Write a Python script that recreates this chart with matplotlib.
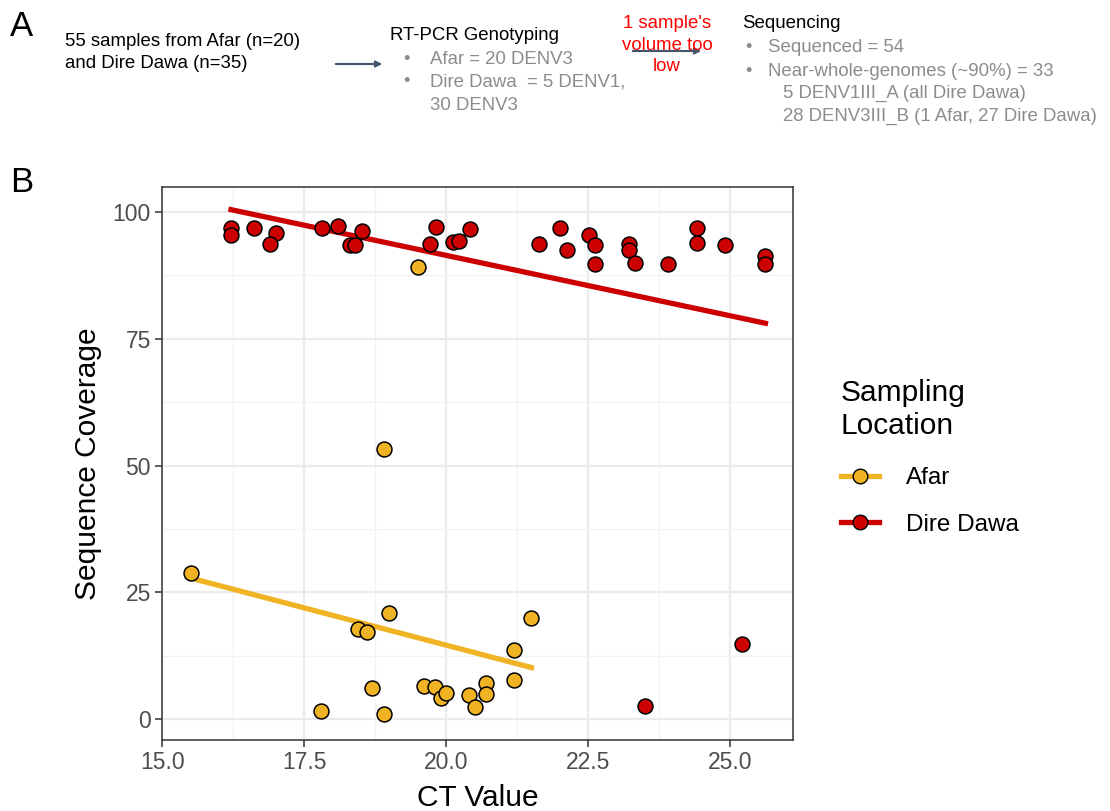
import numpy as np
import matplotlib
matplotlib.use("Agg")
import matplotlib.pyplot as plt
from matplotlib.ticker import MultipleLocator

plt.rcParams['font.family'] = ['Liberation Sans', 'DejaVu Sans']

# datos
afar_ct = [15.5, 17.8, 18.45, 18.6, 19.0, 18.7, 18.9, 19.6, 19.8, 19.9,
           20.0, 20.4, 20.5, 20.7, 20.7, 21.2, 21.2, 21.5, 18.9, 19.5]
afar_cov = [28.9, 1.6, 17.8, 17.1, 21.0, 6.2, 1.0, 6.5, 6.3, 4.1,
            5.1, 4.7, 2.5, 7.05, 4.9, 13.6, 7.8, 20.0, 53.3, 89.2]

dire_ct = [16.21, 16.21, 16.61, 17.01, 16.90, 17.81, 18.10, 18.52, 18.31, 18.40,
           19.82, 19.71, 20.11, 20.22, 20.41, 21.63, 22.01, 22.12, 22.51, 22.62,
           22.62, 23.21, 23.21, 23.32, 23.91, 24.41, 24.41, 24.91, 25.62, 25.62,
           23.5, 25.2]
dire_cov = [96.8, 95.5, 96.9, 95.8, 93.6, 96.9, 97.2, 96.3, 93.5, 93.5,
            97.1, 93.7, 94.1, 94.3, 96.6, 93.7, 96.8, 92.4, 95.5, 93.5,
            89.7, 93.7, 92.4, 89.9, 89.7, 96.8, 93.8, 93.5, 91.3, 89.7,
            2.6, 14.8]

locations = ["Afar", "Dire Dawa"]
colores = ["#F0B323", "#CC0000"]
xticks = [15.0, 17.5, 20.0, 22.5, 25.0]
yticks = [0, 25, 50, 75, 100]

fig = plt.figure(figsize=(11.1, 8.11), dpi=100)

# ---- Panel A (texto) ----
fig.text(10 / 1110, 1 - 10 / 811, "A", fontsize=25, va="top", ha="left")
fig.text(10 / 1110, 1 - 166 / 811, "B", fontsize=25, va="top", ha="left")

def t(x, y, s, **kw):
    fig.text(x / 1110, 1 - y / 811, s, va="center", ha="left", fontsize=13.4, **kw)

gris = "#8C8C8C"
t(65, 42, "55 samples from Afar (n=20)")
t(65, 63, "and Dire Dawa (n=35)")
t(390, 35, "RT-PCR Genotyping")
t(403, 59, "•", color=gris)
t(430, 59, "Afar = 20 DENV3", color=gris)
t(403, 82, "•", color=gris)
t(430, 82, "Dire Dawa  = 5 DENV1,", color=gris)
t(430, 105, "30 DENV3", color=gris)
fig.text(667 / 1110, 1 - 45 / 811, "1 sample's\nvolume too\nlow", color="red",
         ha="center", va="center", fontsize=13.4, linespacing=1.36)
t(742, 23, "Sequencing")
t(745, 47, "•", color=gris)
t(768, 47, "Sequenced = 54", color=gris)
t(745, 71, "•", color=gris)
t(768, 71, "Near-whole-genomes (~90%) = 33", color=gris)
t(783, 93, "5 DENV1III_A (all Dire Dawa)", color=gris)
t(783, 116, "28 DENV3III_B (1 Afar, 27 Dire Dawa)", color=gris)

for x0, x1, y in [(333, 385, 64), (630, 704, 51)]:
    fig.add_artist(matplotlib.patches.FancyArrowPatch(
        (x0 / 1110, 1 - y / 811), (x1 / 1110, 1 - y / 811),
        transform=fig.transFigure, arrowstyle="-|>", mutation_scale=9,
        color="#44546A", lw=1.5))

# ---- Panel B ----
ax = fig.add_axes([162 / 1110, 1 - 740 / 811, (793 - 162) / 1110, (740 - 187) / 811])

grupos = [(afar_ct, afar_cov), (dire_ct, dire_cov)]
for (xs, ys), lab, col in zip(grupos, locations, colores):
    xs = np.array(xs)
    ys = np.array(ys)
    m, b = np.polyfit(xs, ys, 1)
    xl = np.array([xs.min(), xs.max()])
    ax.plot(xl, m * xl + b, color=col, lw=3.8, zorder=2)
    ax.scatter(xs, ys, s=115, color=col, edgecolor="black", linewidth=1.1, zorder=3)
    ax.plot([], [], color=col, lw=3.8, marker="o", markersize=10.5,
            markerfacecolor=col, markeredgecolor="black", label=lab)

ax.set_xlim(14.995, 26.105)
ax.set_ylim(-4.1, 104.9)
ax.set_xticks(xticks)
ax.set_xticklabels([f"{v:.1f}" for v in xticks])
ax.set_yticks(yticks)
ax.xaxis.set_minor_locator(MultipleLocator(1.25))
ax.yaxis.set_minor_locator(MultipleLocator(12.5))
ax.grid(which="major", color="#EBEBEB", lw=1.6, zorder=0)
ax.grid(which="minor", color="#F2F2F2", lw=0.9, zorder=0)
ax.set_axisbelow(True)
ax.tick_params(which="major", length=5, width=1.1, color="#333333",
               labelsize=16.5, labelcolor="#4D4D4D", pad=3)
ax.tick_params(which="minor", length=0)
for s in ax.spines.values():
    s.set_color("#333333")
    s.set_linewidth(1.1)

ax.set_xlabel("CT Value", fontsize=21.5, labelpad=7)
ax.set_ylabel("Sequence Coverage", fontsize=21.5, labelpad=8)

leg = ax.legend(title="Sampling\nLocation", loc="upper left",
                bbox_to_anchor=(1.06, 0.67), frameon=False, fontsize=17.5,
                title_fontsize=21.5, handlelength=1.6, labelspacing=1.0,
                handletextpad=1.1, borderaxespad=0)
leg._legend_box.align = "left"
leg._legend_box.sep = 20

plt.savefig("out.png", dpi=100)
